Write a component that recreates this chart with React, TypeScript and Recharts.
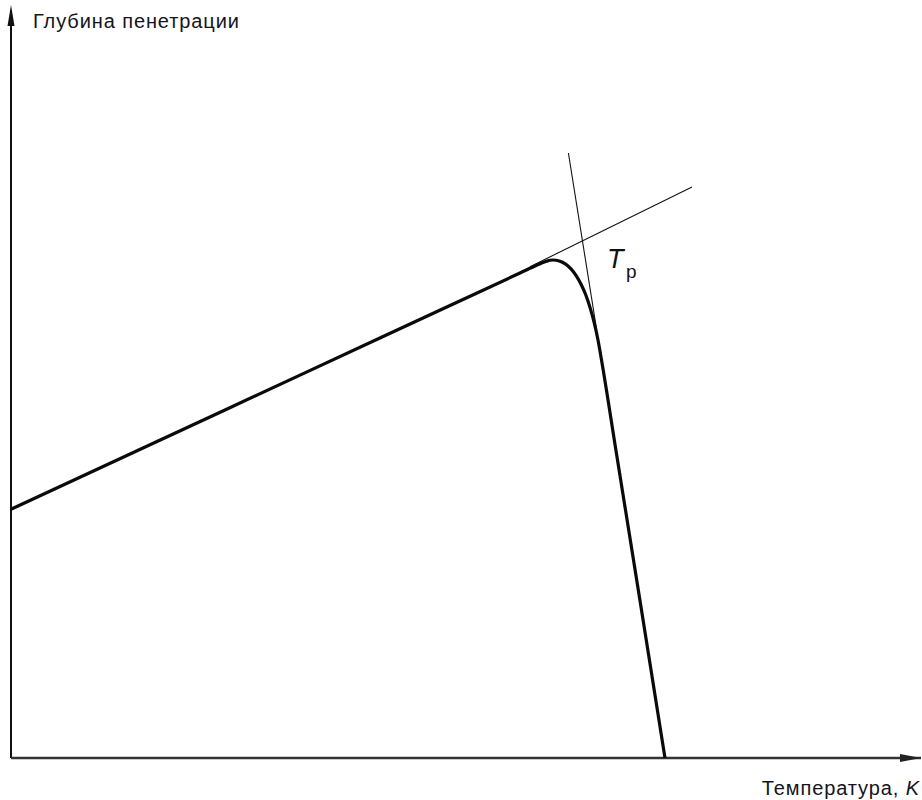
import React from "react";
import { ComposedChart, Line, XAxis, YAxis, ReferenceLine, ReferenceDot } from "recharts";

// Curve: temperature (x) vs penetration depth (y), arbitrary units
const curveX = [0, 139, 289, 439, 509, 526.1, 531.2, 535.5, 539.1, 542, 548.3, 554.3, 560, 565.3, 570.3, 575, 579.3, 583.3, 587, 590.3, 604.9, 628.9, 654];
const curveY = [248.7, 313.2, 382.9, 452.5, 485, 493, 495.2, 496.7, 497.7, 498, 497, 494.1, 489.1, 482.2, 473.3, 462.5, 449.6, 434.8, 418, 399.3, 308, 158, 0];

// Tangent construction lines
const tangentA = [
  { x: 519, y: 491.3 },
  { x: 681, y: 571 },
];
const tangentB = [
  { x: 557.4, y: 605 },
  { x: 585.7, y: 428 },
];

const yLabel = "Глубина пенетрации";
const xLabel = "Температура, ";
const xUnit = "K";

const data = curveX.map((x, i) => ({ x, y: curveY[i] }));

const W = 922;
const H = 800;
const X_MAX = 910;
const Y_MAX = 748;
const font = "'Liberation Sans', Arial, sans-serif";

const ArrowRight = (props: any) => {
  const { cx, cy } = props;
  return <polygon points={`${cx},${cy} ${cx - 21},${cy - 4} ${cx - 21},${cy + 4}`} fill="#222" />;
};
const ArrowUp = (props: any) => {
  const { cx, cy } = props;
  return <polygon points={`${cx},${cy - 5} ${cx - 3.5},${cy + 16} ${cx + 3.5},${cy + 16}`} fill="#111" />;
};

export default function App() {
  return (
    <div style={{ position: "absolute", left: 0, top: 0, width: W, height: H, background: "#fff" }}>
      <ComposedChart width={W} height={H} data={data} margin={{ top: 10, right: 1, bottom: 42, left: 11 }}>
        <XAxis dataKey="x" type="number" domain={[0, X_MAX]} hide />
        <YAxis type="number" domain={[0, Y_MAX]} hide />
        <ReferenceLine x={0} stroke="#111" strokeWidth={2} />
        <ReferenceLine y={0} stroke="#333" strokeWidth={2.5} />
        <ReferenceDot x={X_MAX} y={0} r={0} shape={ArrowRight} ifOverflow="visible" />
        <ReferenceDot x={0} y={Y_MAX} r={0} shape={ArrowUp} ifOverflow="visible" />
        <ReferenceLine segment={tangentA} stroke="#111" strokeWidth={1.1} ifOverflow="visible" />
        <ReferenceLine segment={tangentB} stroke="#111" strokeWidth={1.1} ifOverflow="visible" />
        <Line
          dataKey="y"
          type="monotone"
          stroke="#0a0a0a"
          strokeWidth={3.2}
          dot={false}
          activeDot={false}
          isAnimationActive={false}
        />
        <text x={33} y={28} fontFamily={font} fontSize={20} letterSpacing={0.9} fill="#141420">
          {yLabel}
        </text>
        <text x={920} y={795} textAnchor="end" fontFamily={font} fontSize={20} letterSpacing={0.9} fill="#141420">
          {xLabel}
          <tspan fontStyle="italic">{xUnit}</tspan>
        </text>
        <text x={607} y={268} fontFamily={font} fontSize={27} fontStyle="italic" fill="#111">
          T
        </text>
        <text x={626} y={278} fontFamily={font} fontSize={19} fill="#111">
          p
        </text>
      </ComposedChart>
    </div>
  );
}
